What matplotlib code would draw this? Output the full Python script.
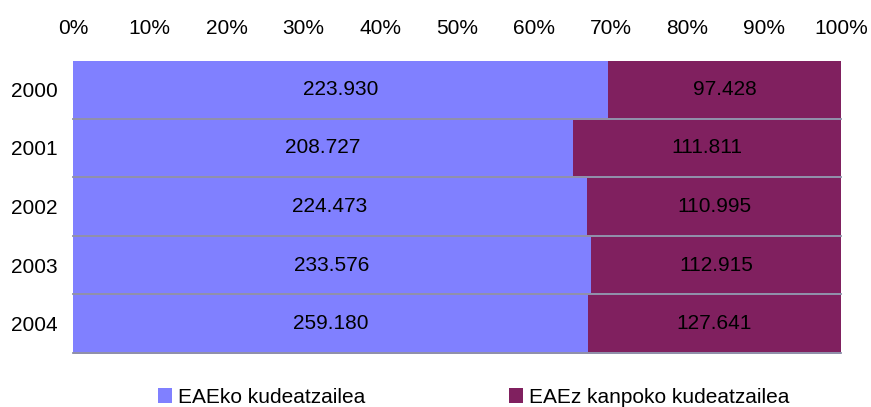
import matplotlib.pyplot as plt
import numpy as np

plt.rcParams['font.family'] = ['Liberation Sans', 'DejaVu Sans']

# data
years = ['2000', '2001', '2002', '2003', '2004']
eaeko = np.array([223930, 208727, 224473, 233576, 259180])
kanpoko = np.array([97428, 111811, 110995, 112915, 127641])
eaeko_lbl = ['223.930', '208.727', '224.473', '233.576', '259.180']
kanpoko_lbl = ['97.428', '111.811', '110.995', '112.915', '127.641']
ticks = [0, 10, 20, 30, 40, 50, 60, 70, 80, 90, 100]

total = eaeko + kanpoko
p1 = eaeko / total * 100
p2 = kanpoko / total * 100

fs = 15

fig = plt.figure(figsize=(8.71, 4.07), dpi=100)
ax = fig.add_axes([73/871, 1 - 353/407, 768/871, 293/407])

y = np.arange(len(years))
ax.barh(y, p1, height=0.965, color='#8080ff', label='EAEko kudeatzailea', zorder=2)
ax.barh(y, p2, left=p1, height=0.965, color='#80205f', label='EAEz kanpoko kudeatzailea', zorder=2)

# grey lines between the bars
for b in y + 0.5:
    ax.axhline(b, color='#7a7a9a', lw=1.2, zorder=1, clip_on=False)

for i in range(len(years)):
    ax.text(p1[i] / 2, y[i], eaeko_lbl[i], ha='center', va='center', fontsize=fs)
    ax.text(p1[i] + p2[i] / 2, y[i], kanpoko_lbl[i], ha='center', va='center', fontsize=fs)

ax.set_xlim(0, 100)
ax.set_ylim(4.5, -0.5)
ax.xaxis.tick_top()
ax.set_xticks(ticks)
ax.set_xticklabels([f'{t}%' for t in ticks], fontsize=fs)
ax.set_yticks(y)
ax.set_yticklabels(years, fontsize=fs)
ax.tick_params(axis='x', length=0, pad=16)
ax.tick_params(axis='y', length=0, pad=11)
for s in ax.spines.values():
    s.set_visible(False)

fig.legend(loc='center left', bbox_to_anchor=(158/871, 0.024), ncol=2, frameon=False,
           fontsize=fs, handlelength=0.67, handleheight=0.67, handletextpad=0.3,
           columnspacing=6.9, borderpad=0, borderaxespad=0)

fig.savefig('out.png', dpi=100)
